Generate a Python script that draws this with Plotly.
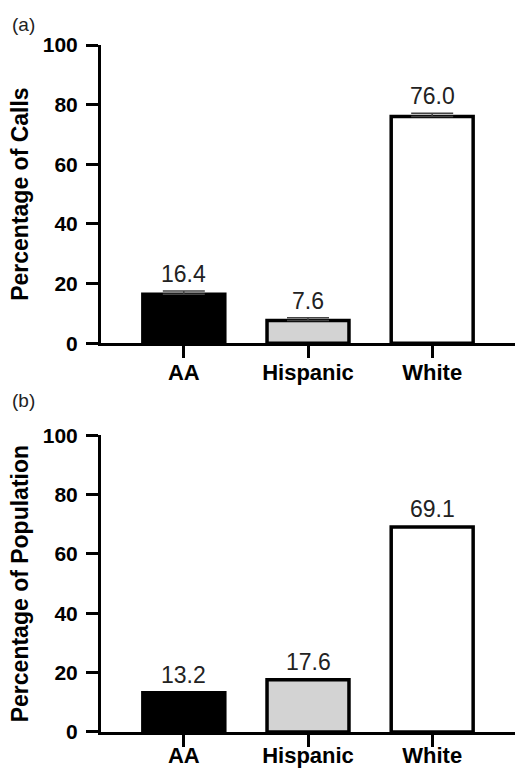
import plotly.graph_objects as go

categories = ["AA", "Hispanic", "White"]
calls_pct = [16.4, 7.6, 76.0]
calls_err = [1.1, 0.9, 1.1]
pop_pct = [13.2, 17.6, 69.1]
bar_colors = ["#000000", "#d3d3d3", "#ffffff"]
y_ticks = [0, 20, 40, 60, 80, 100]

FONT = "Liberation Sans, Arial, sans-serif"
W, H = 515, 771
ml, mr, mt, mb = 101, 0, 45, 39

fig = go.Figure()
fig.add_trace(go.Bar(
    x=categories, y=calls_pct, width=0.66,
    marker=dict(color=bar_colors, line=dict(color="black", width=3.5)),
    error_y=dict(type="data", symmetric=False, array=calls_err,
                 arrayminus=[0] * 3, color="#444444", thickness=1.5, width=21),
    xaxis="x", yaxis="y", showlegend=False, hoverinfo="skip"))
fig.add_trace(go.Bar(
    x=categories, y=pop_pct, width=0.66,
    marker=dict(color=bar_colors, line=dict(color="black", width=3.5)),
    xaxis="x2", yaxis="y2", showlegend=False, hoverinfo="skip"))

ann = []
for c, v, e in zip(categories, calls_pct, calls_err):
    ann.append(dict(x=c, y=v + e, xref="x", yref="y", text=f"{v:.1f}",
                    showarrow=False, yanchor="bottom", yshift=2,
                    font=dict(family=FONT, size=23, color="#222")))
for c, v in zip(categories, pop_pct):
    ann.append(dict(x=c, y=v, xref="x2", yref="y2", text=f"{v:.1f}",
                    showarrow=False, yanchor="bottom", yshift=3,
                    font=dict(family=FONT, size=23, color="#222")))
pw = W - ml - mr
ann.append(dict(x=(10 - ml) / pw, y=1.0, xref="paper", yref="paper", text="(a)",
                showarrow=False, xanchor="left", yanchor="bottom", yshift=8,
                font=dict(family=FONT, size=19, color="#222")))
ann.append(dict(x=(10 - ml) / pw, y=0.432, xref="paper", yref="paper", text="(b)",
                showarrow=False, xanchor="left", yanchor="bottom", yshift=22,
                font=dict(family=FONT, size=19, color="#222")))

xax = dict(range=[-0.667, 2.667], showline=True, linewidth=3, linecolor="black",
           ticks="outside", ticklen=12, tickwidth=3, tickcolor="black",
           tickfont=dict(family=FONT, size=22, color="black", weight="bold"),
           showgrid=False, zeroline=False, fixedrange=True)
yax = dict(range=[0, 100], tickvals=y_ticks, showline=True, linewidth=3,
           linecolor="black", ticks="outside", ticklen=12, tickwidth=3,
           tickcolor="black", ticklabelstandoff=4,
           tickfont=dict(family=FONT, size=21, color="black", weight="bold"),
           showgrid=False, zeroline=False, fixedrange=True)

fig.update_layout(
    width=W, height=H, margin=dict(l=ml, r=mr, t=mt, b=mb, autoexpand=False),
    plot_bgcolor="white", paper_bgcolor="white", bargap=0.3,
    xaxis=dict(xax, domain=[0, 1], anchor="y", ticklabelstandoff=-5),
    yaxis=dict(yax, domain=[0.566, 1.0], anchor="x",
               title=dict(text="Percentage of Calls", standoff=8,
                          font=dict(family=FONT, size=23, color="black", weight="bold"))),
    xaxis2=dict(xax, domain=[0, 1], anchor="y2", ticklabelstandoff=-10),
    yaxis2=dict(yax, domain=[0, 0.432], anchor="x2",
                title=dict(text="Percentage of Population", standoff=8,
                           font=dict(family=FONT, size=23, color="black", weight="bold"))),
    annotations=ann,
)
fig.write_html("out.html", config={"displayModeBar": False},
               post_script="document.body.style.margin='0';")
